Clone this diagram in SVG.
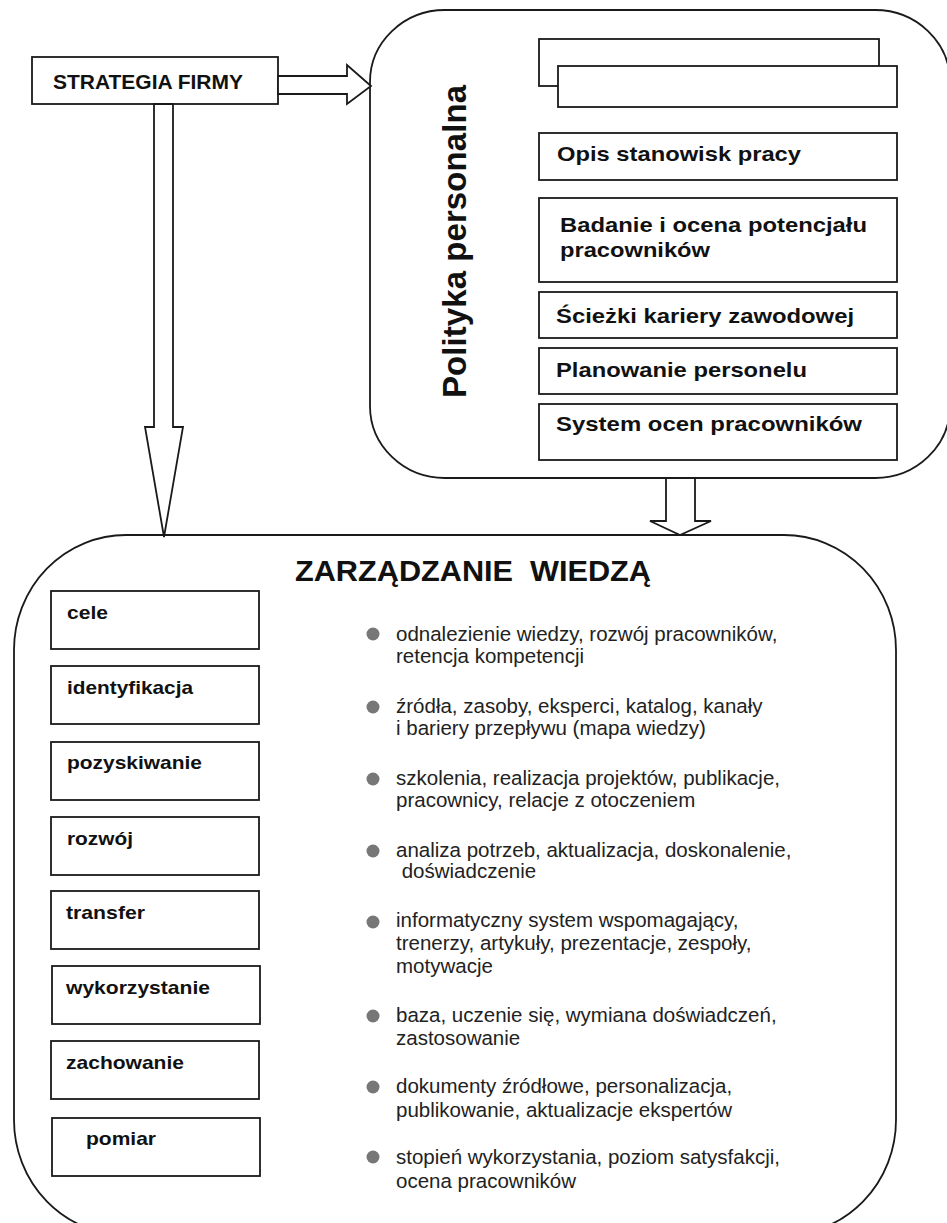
<svg xmlns="http://www.w3.org/2000/svg" width="947" height="1223" viewBox="0 0 947 1223">
<style>
.ln{fill:#fff;stroke:#1a1a1a;stroke-width:1.8}
.bx{fill:#fff;stroke:#1a1a1a;stroke-width:1.8}
.bd{font-family:"Liberation Sans",Arial,sans-serif;font-weight:bold;fill:#111}
.t1{font-size:21px}
.t2{font-size:18.5px}
.rg{font-family:"Liberation Sans",Arial,sans-serif;font-size:20.5px;fill:#222}
.dot{fill:#777}
</style>
<rect width="947" height="1223" fill="#fff"/>

<g id="polityka">
<rect class="ln" x="370" y="10" width="580" height="468" rx="75" ry="72"/>
<text class="bd" font-size="33" transform="translate(466,398) rotate(-90)" textLength="313" lengthAdjust="spacing">Polityka personalna</text>
</g>

<g id="box-empty">
<rect class="bx" x="539" y="39" width="340" height="47"/>
<rect class="bx" x="558" y="66" width="339" height="41"/>
</g>
<g id="box-opis">
<rect class="bx" x="539" y="133" width="358" height="47"/>
<text class="bd t1" x="557" y="161" textLength="244" lengthAdjust="spacingAndGlyphs">Opis stanowisk pracy</text>
</g>
<g id="box-badanie">
<rect class="bx" x="539" y="198" width="358" height="84"/>
<text class="bd t1" x="560" y="232" textLength="307" lengthAdjust="spacingAndGlyphs">Badanie i ocena potencjału</text>
<text class="bd t1" x="560" y="257" textLength="150" lengthAdjust="spacingAndGlyphs">pracowników</text>
</g>
<g id="box-sciezki">
<rect class="bx" x="539" y="292" width="358" height="46"/>
<text class="bd t1" x="556" y="323" textLength="298" lengthAdjust="spacingAndGlyphs">Ścieżki kariery zawodowej</text>
</g>
<g id="box-planowanie">
<rect class="bx" x="539" y="348" width="358" height="46"/>
<text class="bd t1" x="556" y="377" textLength="251" lengthAdjust="spacingAndGlyphs">Planowanie personelu</text>
</g>
<g id="box-system">
<rect class="bx" x="539" y="404" width="358" height="56"/>
<text class="bd t1" x="556" y="431" textLength="306" lengthAdjust="spacingAndGlyphs">System ocen pracowników</text>
</g>

<g id="strategia">
<rect class="bx" x="32" y="57" width="246" height="47"/>
<text class="bd t1" x="53" y="89" textLength="190" lengthAdjust="spacingAndGlyphs">STRATEGIA FIRMY</text>
</g>

<g id="zarzadzanie">
<rect class="ln" x="14" y="535" width="882" height="700" rx="112" ry="115"/>
<text class="bd" font-size="30" x="295" y="581" xml:space="preserve" textLength="356" lengthAdjust="spacingAndGlyphs">ZARZĄDZANIE  WIEDZĄ</text>
</g>

<g id="box-cele"><rect class="bx" x="51" y="591" width="208" height="58"/><text class="bd t2" x="67" y="619" textLength="41" lengthAdjust="spacingAndGlyphs">cele</text></g>
<g id="box-identyfikacja"><rect class="bx" x="51" y="666" width="208" height="58"/><text class="bd t2" x="67" y="694" textLength="126" lengthAdjust="spacingAndGlyphs">identyfikacja</text></g>
<g id="box-pozyskiwanie"><rect class="bx" x="51" y="742" width="208" height="58"/><text class="bd t2" x="67" y="769" textLength="135" lengthAdjust="spacingAndGlyphs">pozyskiwanie</text></g>
<g id="box-rozwoj"><rect class="bx" x="51" y="817" width="208" height="58"/><text class="bd t2" x="67" y="845" textLength="66" lengthAdjust="spacingAndGlyphs">rozwój</text></g>
<g id="box-transfer"><rect class="bx" x="51" y="891" width="208" height="58"/><text class="bd t2" x="66" y="919" textLength="79" lengthAdjust="spacingAndGlyphs">transfer</text></g>
<g id="box-wykorzystanie"><rect class="bx" x="52" y="966" width="208" height="58"/><text class="bd t2" x="66" y="994" textLength="144" lengthAdjust="spacingAndGlyphs">wykorzystanie</text></g>
<g id="box-zachowanie"><rect class="bx" x="51" y="1041" width="208" height="58"/><text class="bd t2" x="66" y="1069" textLength="118" lengthAdjust="spacingAndGlyphs">zachowanie</text></g>
<g id="box-pomiar"><rect class="bx" x="52" y="1118" width="208" height="58"/><text class="bd t2" x="86" y="1145" textLength="70" lengthAdjust="spacingAndGlyphs">pomiar</text></g>

<g id="bullets">
<circle class="dot" cx="373" cy="634" r="6.5"/>
<text class="rg" x="396" y="641">odnalezienie wiedzy, rozwój pracowników,</text>
<text class="rg" x="396" y="663">retencja kompetencji</text>
<circle class="dot" cx="373" cy="707" r="6.5"/>
<text class="rg" x="396" y="713">źródła, zasoby, eksperci, katalog, kanały</text>
<text class="rg" x="396" y="735">i bariery przepływu (mapa wiedzy)</text>
<circle class="dot" cx="373" cy="779" r="6.5"/>
<text class="rg" x="396" y="785">szkolenia, realizacja projektów, publikacje,</text>
<text class="rg" x="396" y="807">pracownicy, relacje z otoczeniem</text>
<circle class="dot" cx="373" cy="851" r="6.5"/>
<text class="rg" x="396" y="857">analiza potrzeb, aktualizacja, doskonalenie,</text>
<text class="rg" x="396" y="878" xml:space="preserve"> doświadczenie</text>
<circle class="dot" cx="373" cy="922" r="6.5"/>
<text class="rg" x="396" y="927">informatyczny system wspomagający,</text>
<text class="rg" x="396" y="950">trenerzy, artykuły, prezentacje, zespoły,</text>
<text class="rg" x="396" y="973">motywacje</text>
<circle class="dot" cx="373" cy="1016" r="6.5"/>
<text class="rg" x="396" y="1022">baza, uczenie się, wymiana doświadczeń,</text>
<text class="rg" x="396" y="1045">zastosowanie</text>
<circle class="dot" cx="373" cy="1087" r="6.5"/>
<text class="rg" x="396" y="1093">dokumenty źródłowe, personalizacja,</text>
<text class="rg" x="396" y="1117">publikowanie, aktualizacje ekspertów</text>
<circle class="dot" cx="373" cy="1157" r="6.5"/>
<text class="rg" x="396" y="1164">stopień wykorzystania, poziom satysfakcji,</text>
<text class="rg" x="396" y="1188">ocena pracowników</text>
</g>

<g id="connectors">
<polygon class="ln" points="278,76 347,76 347,65 371,86 347,104 347,94 278,94"/>
<polygon class="ln" points="154,104 173,104 173,427 183,427 164,537 145,427 154,427"/>
<polygon class="ln" points="666,478 695,478 695,521 711,521 680,535 650,521 666,521"/>
</g>
</svg>
